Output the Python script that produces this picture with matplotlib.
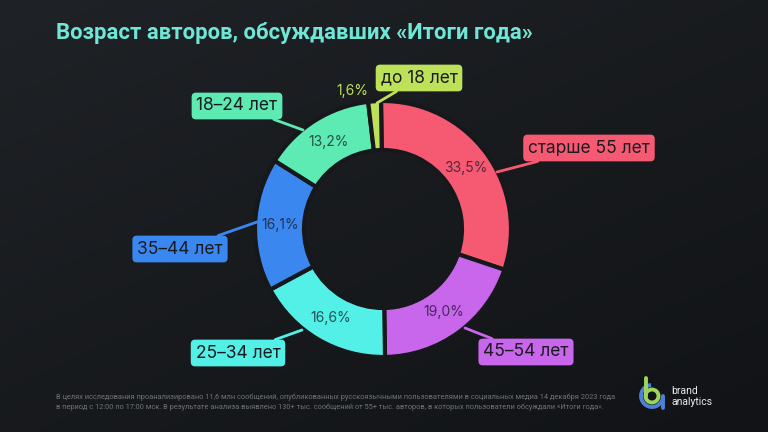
import matplotlib
matplotlib.use('Agg')
import matplotlib.pyplot as plt
import numpy as np
from matplotlib.patches import Arc, Circle

# ---- data ----
categories = ['старше 55 лет', '45–54 лет', '25–34 лет', '35–44 лет', '18–24 лет', 'до 18 лет']
pct_labels = ['33,5%', '19,0%', '16,6%', '16,1%', '13,2%', '1,6%']
# arc shares as drawn in the reference picture (%)
shares = [30.4, 19.6, 17.4, 16.8, 14.2, 1.6]
colors = ['#F65A73', '#C866EC', '#52F0E6', '#3B87F0', '#5EEAB3', '#BEE15A']

title = 'Возраст авторов, обсуждавших «Итоги года»'
footer = ('В целях исследования проанализировано 11,6 млн сообщений, опубликованных русскоязычными '
          'пользователями в социальных медиа 14 декабря 2023 года\n'
          'в период с 12:00 по 17:00 мск. В результате анализа выявлено 130+ тыс. сообщений от 55+ тыс. '
          'авторов, в которых пользователи обсуждали «Итоги года».')

W, H = 768, 432
bg = '#17191d'

fig = plt.figure(figsize=(7.68, 4.32), dpi=100)
ax = fig.add_axes([0, 0, 1, 1])

# background gradient
gx, gy = np.meshgrid(np.linspace(0, 1, 200), np.linspace(0, 1, 120))
t = 0.55 * gy + 0.45 * (1 - gx)
c_top = np.array([0x1f, 0x22, 0x26]) / 255
c_bot = np.array([0x11, 0x13, 0x16]) / 255
img = c_bot[None, None, :] * (1 - t[..., None]) + c_top[None, None, :] * t[..., None]
ax.imshow(img, extent=[0, W, 0, H], origin='lower', aspect='auto', zorder=0)

cx, cy = 383, H - 229
R = 128
wedges, _ = ax.pie(shares, colors=colors, startangle=90.9, counterclock=False,
                   radius=R, center=(cx, cy),
                   wedgeprops=dict(width=49, edgecolor='#16181b', linewidth=3))
for w in wedges:
    w.set_zorder(2)

ax.set_xlim(0, W)
ax.set_ylim(0, H)
ax.set_aspect('auto')
ax.axis('off')

# label box centers and connector anchors (image coords)
box_pos = [(589, 148), (526, 352), (238, 353), (180, 249), (237, 106), (419, 78)]
anchors = [(497, 172), (465, 328), (302, 330), (257, 222), (303, 130), (377, 103)]

for i, w in enumerate(wedges):
    mid = np.deg2rad((w.theta1 + w.theta2) / 2)
    if shares[i] > 5:
        r = 103
        px, py = cx + r * np.cos(mid), cy + r * np.sin(mid)
        ax.text(px, py, pct_labels[i], ha='center', va='center', fontsize=10,
                family='Inter', color=(0.08, 0.08, 0.12, 0.72), zorder=3)
    else:
        ax.text(352, H - 91, pct_labels[i], ha='center', va='center', fontsize=10,
                family='Inter', color=colors[i], zorder=3)
    ax_, ay_ = anchors[i]
    bx, by = box_pos[i]
    ax.annotate(categories[i], xy=(ax_, H - ay_), xytext=(bx, H - by),
                ha='center', va='center', fontsize=12.5, family='Inter', color='#1a1b20',
                bbox=dict(boxstyle='round,pad=0.28,rounding_size=0.25', fc=colors[i], ec='none'),
                arrowprops=dict(arrowstyle='-', color=colors[i], lw=2,
                                shrinkA=0, shrinkB=0),
                zorder=4)

# title
ax.text(56, H - 33, title, ha='left', va='center', fontsize=15.9, family='Roboto',
        fontweight='bold', color='#6FE6D6', zorder=5)

# footer
ax.text(56, H - 402, footer, ha='left', va='center', fontsize=5.3, family='Roboto',
        color='#6e7278', linespacing=1.45, zorder=5)

# logo
green = '#9BD65A'
blue = '#4F7FD8'
lc = (652, H - 396)
ax.add_patch(Arc(lc, 22, 22, theta1=95, theta2=360, color=blue, lw=2.8, zorder=5))
ax.plot([lc[0] + 11, lc[0] + 11], [lc[1], lc[1] - 12], color=blue, lw=2.8, zorder=5,
        solid_capstyle='round')
ax.add_patch(Circle(lc, 6.5, fill=False, ec=green, lw=2.8, zorder=6))
ax.plot([lc[0] - 6.5, lc[0] - 6.5], [lc[1], H - 378], color=green, lw=2.8, zorder=6,
        solid_capstyle='round')
ax.text(671, H - 391, 'brand', ha='left', va='center', fontsize=7.5, family='Roboto',
        color='#e8eaec', zorder=6)
ax.text(671, H - 402, 'analytics', ha='left', va='center', fontsize=7.5, family='Roboto',
        color='#e8eaec', zorder=6)

fig.savefig('out.png', dpi=100, facecolor=bg)
